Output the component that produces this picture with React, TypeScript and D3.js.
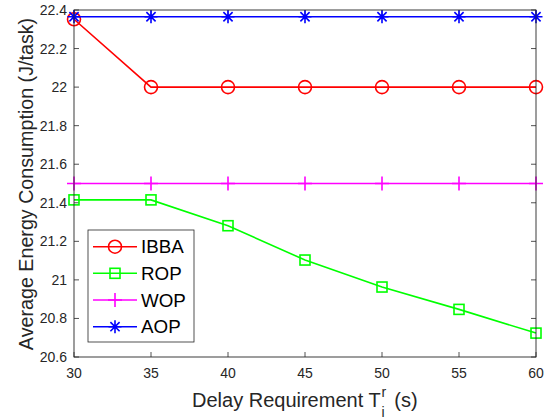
import React from "react";
import * as d3 from "d3";

const delays = [30, 35, 40, 45, 50, 55, 60];
const ibba = [22.352, 22.0, 22.0, 22.0, 22.0, 22.0, 22.0];
const rop = [21.415, 21.415, 21.281, 21.103, 20.963, 20.847, 20.724];
const wop = [21.5, 21.5, 21.5, 21.5, 21.5, 21.5, 21.5];
const aop = [22.365, 22.365, 22.365, 22.365, 22.365, 22.365, 22.365];
const xTicks = [30, 35, 40, 45, 50, 55, 60];
const yTicks = [20.6, 20.8, 21, 21.2, 21.4, 21.6, 21.8, 22, 22.2, 22.4];
const seriesNames = ["IBBA", "ROP", "WOP", "AOP"];
const seriesColors = ["#ff0000", "#00ff00", "#ff00ff", "#0000ff"];
const seriesMarkers = ["circle", "square", "plus", "star"];

const W = 550, H = 419;
const L = 74, R = 536, T = 10, B = 357;
const FONT = "'Liberation Sans', Arial, Helvetica, sans-serif";
const AX = "#262626";

function Marker({ type, x, y, color }: { type: string; x: number; y: number; color: string }) {
  const sw = 1.6;
  if (type === "circle") return <circle cx={x} cy={y} r={6.5} fill="none" stroke={color} strokeWidth={sw} />;
  if (type === "square") return <rect x={x - 5} y={y - 5} width={10} height={10} fill="none" stroke={color} strokeWidth={sw} />;
  if (type === "plus")
    return (
      <path d={`M${x - 7},${y}H${x + 7}M${x},${y - 7}V${y + 7}`} stroke={color} strokeWidth={sw} fill="none" />
    );
  const s = 6.5, d = 4.6;
  return (
    <path
      d={`M${x - s},${y}H${x + s}M${x},${y - s}V${y + s}M${x - d},${y - d}L${x + d},${y + d}M${x - d},${y + d}L${x + d},${y - d}`}
      stroke={color}
      strokeWidth={sw}
      fill="none"
    />
  );
}

export default function App() {
  const x = d3.scaleLinear().domain([30, 60]).range([L, R]);
  const y = d3.scaleLinear().domain([20.6, 22.4]).range([B, T]);
  const data = [ibba, rop, wop, aop];
  const line = d3
    .line<number>()
    .x((_, i) => x(delays[i]))
    .y((v) => y(v));

  const legX = 88, legY = 230, legW = 106, legH = 112;
  const rowY = [246.7, 273.3, 300, 326.7];

  return (
    <svg width={W} height={H} style={{ position: "absolute", left: 0, top: 0, background: "#fff" }} fontFamily={FONT}>
      <rect x={0} y={0} width={W} height={H} fill="#fff" />
      {xTicks.map((t) => (
        <g key={"x" + t}>
          <line x1={x(t)} x2={x(t)} y1={B} y2={B - 5} stroke={AX} strokeWidth={0.8} />
          <line x1={x(t)} x2={x(t)} y1={T} y2={T + 5} stroke={AX} strokeWidth={0.8} />
          <text x={x(t)} y={378} textAnchor="middle" fontSize={14} fill={AX}>
            {t}
          </text>
        </g>
      ))}
      {yTicks.map((t) => (
        <g key={"y" + t}>
          <line x1={L} x2={L + 5} y1={y(t)} y2={y(t)} stroke={AX} strokeWidth={0.8} />
          <line x1={R} x2={R - 5} y1={y(t)} y2={y(t)} stroke={AX} strokeWidth={0.8} />
          <text x={L - 7} y={y(t) + 5} textAnchor="end" fontSize={14} fill={AX}>
            {d3.format("")(+t.toFixed(1))}
          </text>
        </g>
      ))}
      {data.map((vals, si) => (
        <g key={si}>
          <path d={line(vals) || ""} fill="none" stroke={seriesColors[si]} strokeWidth={1.6} />
          {vals.map((v, i) => (
            <Marker key={i} type={seriesMarkers[si]} x={x(delays[i])} y={y(v)} color={seriesColors[si]} />
          ))}
        </g>
      ))}
      <rect x={L} y={T} width={R - L} height={B - T} fill="none" stroke={AX} strokeWidth={0.9} />
      <rect x={legX} y={legY} width={legW} height={legH} fill="#fff" stroke={AX} strokeWidth={0.8} />
      {seriesNames.map((n, i) => (
        <g key={n}>
          <line x1={93} x2={137} y1={rowY[i]} y2={rowY[i]} stroke={seriesColors[i]} strokeWidth={1.6} />
          <Marker type={seriesMarkers[i]} x={115} y={rowY[i]} color={seriesColors[i]} />
          <text x={141} y={rowY[i] + 6.7} fontSize={18.8} fill="#000">
            {n}
          </text>
        </g>
      ))}
      <text x={192} y={407} textAnchor="start" fontSize={20} fill={AX}>
        Delay Requirement T
        <tspan fontSize={14} dx={1} dy={-10}>r</tspan>
        <tspan fontSize={14} dx={-4.7} dy={20}>i</tspan>
        <tspan dx={4} dy={-10}> (s)</tspan>
      </text>
      <text
        transform={`translate(33,184) rotate(-90)`}
        textAnchor="middle"
        fontSize={19.7}
        fill={AX}
      >
        Average Energy Consumption (J/task)
      </text>
    </svg>
  );
}
